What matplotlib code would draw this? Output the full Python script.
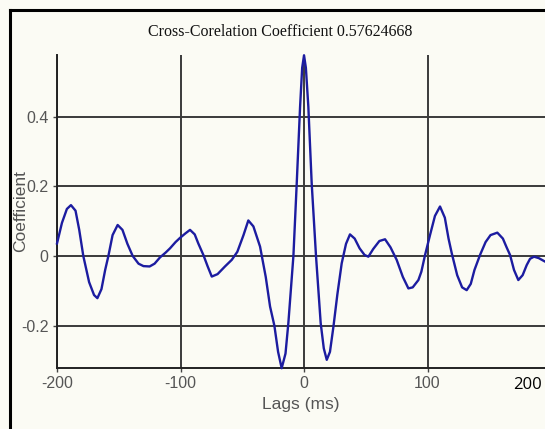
import matplotlib
matplotlib.use("Agg")
import matplotlib.pyplot as plt
from matplotlib.lines import Line2D

# values
lags = [-200, -196, -192, -188.7, -185, -182, -178.7, -174, -170, -167.3, -164, -161,
        -158.4, -155, -150.9, -147, -143, -138.7, -134, -130, -125, -121, -116.6, -112,
        -108.5, -104, -100.4, -96, -92.3, -88.5, -85.6, -81.5, -78, -74.7, -70, -64,
        -58.5, -54, -49, -45.1, -41, -35.6, -31, -27.5, -24, -21, -18.1, -15, -12.7,
        -8.6, -5.9, -3.2, -1.5, 0, 1.5, 3.5, 6.2, 9.7, 13.5, 16, 18.4, 21, 23.8, 27,
        30.5, 34, 37.2, 41, 45, 49, 52.1, 56, 61, 65.6, 70, 75, 80, 84.5, 88, 92.6, 95,
        98, 102, 106, 110.1, 114, 117, 119.6, 124, 128, 131.7, 135, 138, 142.5, 147,
        151, 156.5, 161, 164, 166.8, 170, 173.5, 177, 180.3, 183, 186.2, 190, 195.1]
coef = [0.036, 0.095, 0.135, 0.146, 0.13, 0.075, 0.0, -0.075, -0.112, -0.121, -0.095,
        -0.04, 0.0, 0.06, 0.089, 0.075, 0.035, 0.0, -0.022, -0.029, -0.03, -0.022,
        -0.004, 0.01, 0.022, 0.04, 0.052, 0.065, 0.075, 0.062, 0.036, 0.003, -0.03,
        -0.059, -0.052, -0.03, -0.011, 0.012, 0.06, 0.102, 0.085, 0.027, -0.06, -0.145,
        -0.2, -0.275, -0.322, -0.28, -0.193, 0.0, 0.209, 0.428, 0.54, 0.576, 0.54,
        0.428, 0.209, 0.0, -0.193, -0.265, -0.298, -0.275, -0.203, -0.11, -0.021,
        0.035, 0.062, 0.05, 0.022, 0.003, -0.002, 0.02, 0.043, 0.048, 0.025, -0.011,
        -0.06, -0.093, -0.09, -0.069, -0.045, 0.003, 0.06, 0.115, 0.142, 0.11, 0.05,
        0.008, -0.055, -0.09, -0.098, -0.08, -0.04, 0.003, 0.04, 0.06, 0.067, 0.05,
        0.025, 0.003, -0.04, -0.069, -0.055, -0.026, -0.008, -0.002, -0.006, -0.016]

xticks = [-200, -100, 0, 100]
yticks = [-0.2, 0, 0.2, 0.4]
ytick_labels = ['-0.2', '0', '0.2', '0.4']

plt.rcParams['axes.unicode_minus'] = False
plt.rcParams['font.family'] = ['Liberation Sans', 'DejaVu Sans']

bg = '#fbfbf4'
fig = plt.figure(figsize=(5.45, 4.29), dpi=100, facecolor=bg)
ax = fig.add_axes([57 / 545, 1 - 368 / 429, 1 - 57 / 545, (368 - 55) / 429])
ax.set_facecolor(bg)

ax.set_xlim(-200, 195.1)
ax.set_ylim(-0.3214, 0.5768)

ax.plot(lags, coef, color='#1c1ca0', lw=1.7, zorder=3, clip_on=False)

ax.set_xticks(xticks)
ax.set_yticks(yticks)
ax.set_yticklabels(ytick_labels)
ax.grid(True, color='#3a3a3a', lw=1.4, zorder=1)
ax.set_axisbelow(True)
for s in ['top', 'right']:
    ax.spines[s].set_visible(False)
for s in ['left', 'bottom']:
    ax.spines[s].set_color('#222222')
    ax.spines[s].set_linewidth(1.4)
ax.tick_params(length=3, width=1, color='#444444', labelsize=11.5, labelcolor='#555555', pad=3)

ax.set_xlabel('Lags (ms)', fontsize=12.5, color='#555555', labelpad=4)
ax.set_ylabel('Coefficient', fontsize=12.5, color='#555555')
ax.yaxis.set_label_coords(-0.06, 0.5)

fig.text(280 / 545, 1 - 32 / 429, 'Cross-Corelation Coefficient 0.57624668',
         family='Liberation Serif', fontsize=11.5, ha='center', va='center', color='#111111')
fig.text(527 / 545, 1 - 385 / 429, '200', family='Open Sans', fontsize=12,
         ha='center', va='center', color='black')

# outer frame, left and top edges only
fig.add_artist(Line2D([10 / 545, 10 / 545], [0, 1 - 10 / 429], color='black', lw=2.2,
                      transform=fig.transFigure))
fig.add_artist(Line2D([10 / 545, 1], [1 - 10 / 429, 1 - 10 / 429], color='black', lw=2.2,
                      transform=fig.transFigure))

fig.savefig('out.png', dpi=100, facecolor=bg)
